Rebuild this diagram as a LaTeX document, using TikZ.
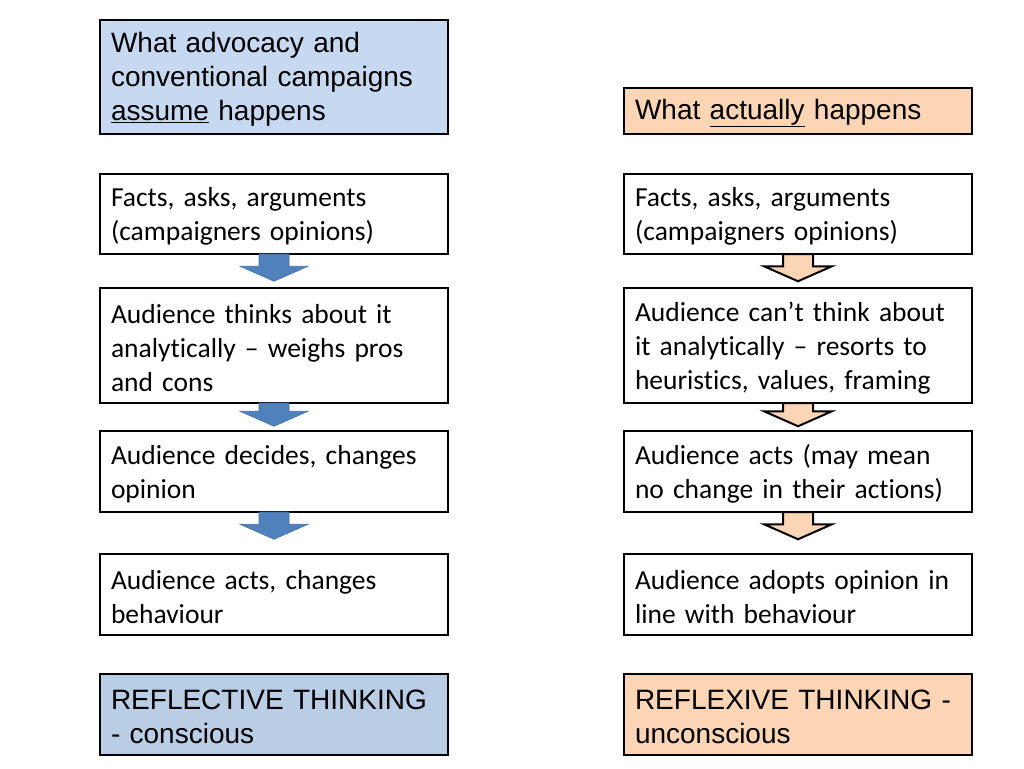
\documentclass[tikz,border=0pt]{standalone}
\usepackage{fontspec}
\setmainfont{Carlito}[Ligatures=CommonOff]
\newfontfamily\arialfont{Liberation Sans}
\usetikzlibrary{positioning}
\usetikzlibrary{calc}
\definecolor{assumeblue}{HTML}{C6D9F1}
\definecolor{reflectblue}{HTML}{B9CDE5}
\definecolor{peach}{HTML}{FCD5B5}
\definecolor{arrowblue}{HTML}{4F81BD}
% fat block arrow hanging below a box
\newcommand{\flowarrow}[4]{%
  \coordinate (tip) at ($(#2.south)!#4!(#3.north)$);
  \draw[#1] ([xshift=-15pt,yshift=1.25pt]#2.south) -- ([xshift=-15pt,yshift=15pt]tip)
    -- ([xshift=-34pt,yshift=15pt]tip) -- (tip) -- ([xshift=34pt,yshift=15pt]tip)
    -- ([xshift=15pt,yshift=15pt]tip) -- ([xshift=15pt,yshift=1.25pt]#2.south) -- cycle;}

\begin{document}
\begin{tikzpicture}[x=1pt,y=1pt]
  \tikzset{stepbox/.style={rectangle, draw, line width=2.5pt,
      text width=326pt, inner xsep=11pt, inner ysep=0pt, align=left,
      execute at begin node={\rule{0pt}{24.5pt}},
      font=\fontsize{27.5}{34}\selectfont}}
  \tikzset{headbox/.style={stepbox, font=\arialfont\fontsize{28}{34}\selectfont}}
  \tikzset{assumed/.style={fill=arrowblue, draw=arrowblue!85!black, line width=0.6pt}}
  \tikzset{actual/.style={fill=peach, draw=black, line width=2pt}}
  \useasboundingbox (0,0) rectangle (1024,-768);
  \node[headbox, fill=assumeblue, minimum height=114pt, anchor=north west] (assumehead) at (98.75,-18.75)
    {What advocacy and\\conventional campaigns\\\underline{assume} happens};
  \node[stepbox, minimum height=80pt] (assumefacts) [below=37.5pt of assumehead]
    {Facts, asks, arguments\\(campaigners opinions)};
  \node[stepbox, minimum height=115pt] (assumethinks) [below=31.5pt of assumefacts]
    {Audience thinks about it\\analytically -- weighs pros\\and cons};
  \node[stepbox, minimum height=81pt] (assumedecides) [below=25.5pt of assumethinks]
    {Audience decides, changes\\opinion};
  \node[stepbox, minimum height=81pt] (assumeacts) [below=39.5pt of assumedecides]
    {Audience acts, changes\\behaviour};
  \node[headbox, fill=reflectblue, minimum height=81pt] (reflective) [below=36.5pt of assumeacts]
    {REFLECTIVE THINKING\\- conscious};
  \node[headbox, fill=peach, minimum height=46pt] (actualhead) [right=173.5pt of assumehead.south east, anchor=south west]
    {What \underline{actually} happens};
  \node[stepbox, minimum height=80pt] (actualfacts) [right=173.5pt of assumefacts]
    {Facts, asks, arguments\\(campaigners opinions)};
  \node[stepbox, minimum height=115pt] (actualthinks) [right=173.5pt of assumethinks]
    {Audience can’t think about\\it analytically -- resorts to\\heuristics, values, framing};
  \node[stepbox, minimum height=81pt] (actualacts) [right=173.5pt of assumedecides]
    {Audience acts (may mean\\no change in their actions)};
  \node[stepbox, minimum height=81pt] (actualadopts) [right=173.5pt of assumeacts]
    {Audience adopts opinion in\\line with behaviour};
  \node[headbox, fill=peach, minimum height=81pt] (reflexive) [right=173.5pt of reflective]
    {REFLEXIVE THINKING -\\unconscious};
  \flowarrow{assumed}{assumefacts}{assumethinks}{26pt}
  \flowarrow{assumed}{assumethinks}{assumedecides}{22pt}
  \flowarrow{assumed}{assumedecides}{assumeacts}{26pt}
  \flowarrow{actual}{actualfacts}{actualthinks}{26pt}
  \flowarrow{actual}{actualthinks}{actualacts}{22pt}
  \flowarrow{actual}{actualacts}{actualadopts}{26pt}
\end{tikzpicture}
\end{document}
